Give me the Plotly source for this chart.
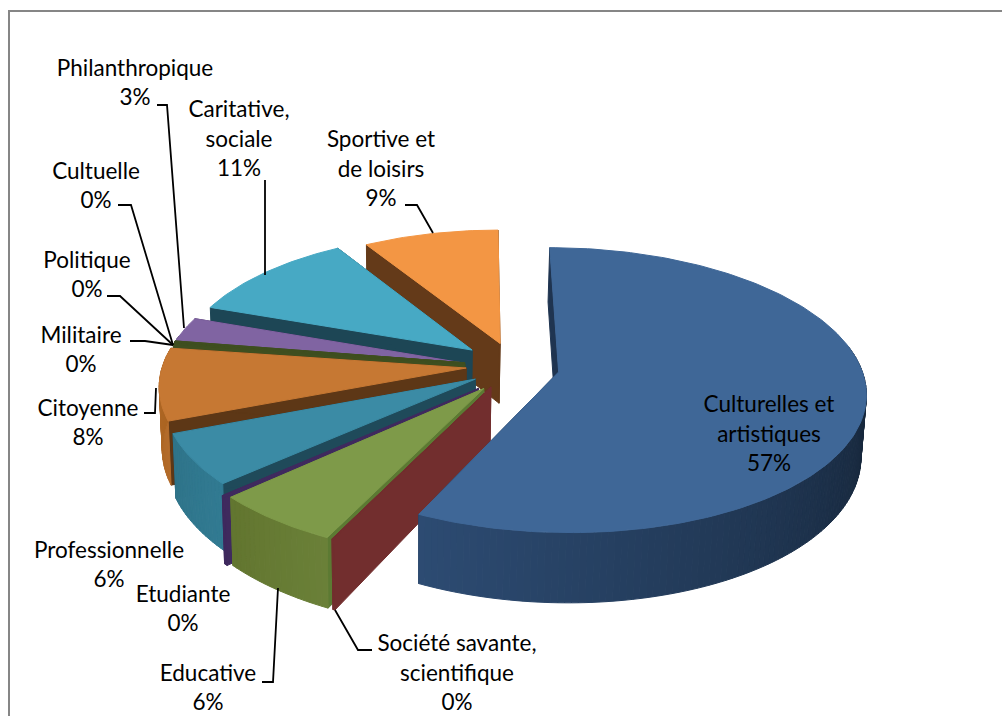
import math
import plotly.graph_objects as go

# ---- data ----
categories = ["Culturelles et<br>artistiques", "Société savante,<br>scientifique", "Educative", "Etudiante",
              "Professionnelle", "Citoyenne", "Militaire", "Politique", "Cultuelle",
              "Philanthropique", "Caritative,<br>sociale", "Sportive et<br>de loisirs"]
values = [57.2, 0.1, 5.9, 0.2, 5.7, 8.2, 0.1, 0.1, 0.1, 2.9, 10.9, 8.6]

# ---- style ----
top_colors = ["#3f6797", "#722e2e", "#7e9a49", "#3f2a5e", "#3b8ba5", "#c67833",
              "#3f4f20", "#3f4f20", "#3f4f20", "#8064a2", "#47a9c4", "#f39644"]
side_colors = ["#1f3450", "#722e2e", "#5c7a33", "#3f2a5e", "#1f4a5a", "#5d3716",
               "#3f4f20", "#3f4f20", "#3f4f20", "#3e2a5c", "#1d4655", "#643a19"]
wall_from = ["#2f4f78", "#722e2e", "#6a8038", "#3f2a5e", "#317a92", "#b36b2a",
             "#3f4f20", "#3f4f20", "#3f4f20", "#3e2a5c", "#2f7c94", "#b36b2a"]
wall_to = ["#16263a", "#722e2e", "#62752f", "#3f2a5e", "#2f7489", "#a8621f",
           "#3f4f20", "#3f4f20", "#3f4f20", "#3e2a5c", "#2f7c94", "#b36b2a"]
# exploded offset of each slice on the pie plane (pie radius = 1), and its drawn radius
explode = [(.255, -.035), (.035, -.139), (.012, -.150), (-.005, -.15), (-.015, -.085), (-.045, -.007),
           (-.05, .02), (-.05, .02), (-.05, .03), (-.059, .03), (-.026, .122), (.067, .17)]
radius = [.985, 1.02, 1, 1, .995, .99, .98, .98, .98, .97, .96, .94]
label_pos = [(769, 436), (457, 675), (208, 690), (183, 611), (109, 567), (88, 425),
             (81, 352), (87, 277), (96, 188), (135, 85), (239, 141), (381, 171)]
leaders = [
    [(157, 105), (167, 105), (184, 328)],
    [(265, 180), (265, 275)],
    [(405, 205), (417, 205), (433, 233)],
    [(118, 205), (131, 205), (173, 345)],
    [(107, 296), (120, 296), (173, 345)],
    [(130, 341), (145, 341), (173, 345)],
    [(144, 413), (155, 413), (156, 388)],
    [(262, 682), (273, 682), (278, 588)],
    [(335, 610), (358, 650), (372, 650)],
]
CX, CY, A, B, P, H = 480, 367, 307, 141, .129, 61
FONT = "Lato"
FS = 22.5


def proj(X, Y, z=0):
    s = 1 / (1 + P * Y)
    x = CX + A * X * s
    x -= .012 * (x - 410) * (z / H)
    return x, CY - B * Y * s + z * s


def mix(c1, c2, t):
    a = [int(c1[i:i + 2], 16) for i in (1, 3, 5)]
    b = [int(c2[i:i + 2], 16) for i in (1, 3, 5)]
    return "#%02x%02x%02x" % tuple(round(u + (v - u) * t) for u, v in zip(a, b))


def poly(fig, pts, color):
    xs = [p[0] for p in pts] + [pts[0][0]]
    ys = [p[1] for p in pts] + [pts[0][1]]
    fig.add_trace(go.Scatter(x=xs, y=ys, mode="lines", fill="toself", fillcolor=color,
                             line=dict(color=color, width=1), hoverinfo="skip", showlegend=False))


total = sum(values)
bounds = [0]
for v in values:
    bounds.append(bounds[-1] + v / total * 2 * math.pi)

fig = go.Figure()
order = [11, 10, 9, 8, 7, 6, 5, 4, 3, 2, 1, 0]
for i in order:
    a0, a1 = bounds[i], bounds[i + 1]
    ox, oy = explode[i]
    r = radius[i]
    n = max(2, int((a1 - a0) / 0.02))
    ang = [a0 + (a1 - a0) * k / n for k in range(n + 1)]
    pt = lambda t, z=0: proj(ox + r * math.sin(t), oy + r * math.cos(t), z)
    apex, apex_b = proj(ox, oy), proj(ox, oy, H)
    # radial walls
    poly(fig, [apex, pt(a0), pt(a0, H), apex_b], side_colors[i])
    poly(fig, [apex, pt(a1), pt(a1, H), apex_b], side_colors[i])
    # rim, shaded; only the part turned towards the viewer
    for k in range(n):
        if math.cos(ang[k]) > .2:
            continue
        t = (math.pi * 1.2 - min(ang[k], math.pi * 1.2)) / (math.pi * .65) if i == 0 else k / n
        t = max(0, min(1, t))
        poly(fig, [pt(ang[k]), pt(ang[k + 1]), pt(ang[k + 1], H), pt(ang[k], H)],
             mix(wall_from[i], wall_to[i], t))
    # top face
    poly(fig, [apex] + [pt(t) for t in ang], top_colors[i])

for seg in leaders:
    fig.add_trace(go.Scatter(x=[p[0] for p in seg], y=[p[1] for p in seg], mode="lines",
                             line=dict(color="black", width=1.8), hoverinfo="skip", showlegend=False))

texts = ["%s<br>%d%%" % (c, round(v / total * 100)) for c, v in zip(categories, values)]
fig.add_trace(go.Scatter(x=[p[0] for p in label_pos], y=[p[1] for p in label_pos], mode="text",
                         text=texts, textposition="middle center",
                         textfont=dict(family=FONT, size=FS, color="black"),
                         hoverinfo="skip", showlegend=False))

fig.add_shape(type="rect", x0=9, y0=11, x1=1100, y1=800, line=dict(color="#868686", width=2))
fig.update_layout(width=1002, height=716, margin=dict(l=0, r=0, t=0, b=0),
                  paper_bgcolor="white", plot_bgcolor="white", showlegend=False,
                  xaxis=dict(range=[0, 1002], visible=False, fixedrange=True),
                  yaxis=dict(range=[716, 0], visible=False, fixedrange=True))
fig.write_html("out.html", config={"displayModeBar": False},
               post_script="document.body.style.margin='0';document.documentElement.style.overflow='hidden';")
